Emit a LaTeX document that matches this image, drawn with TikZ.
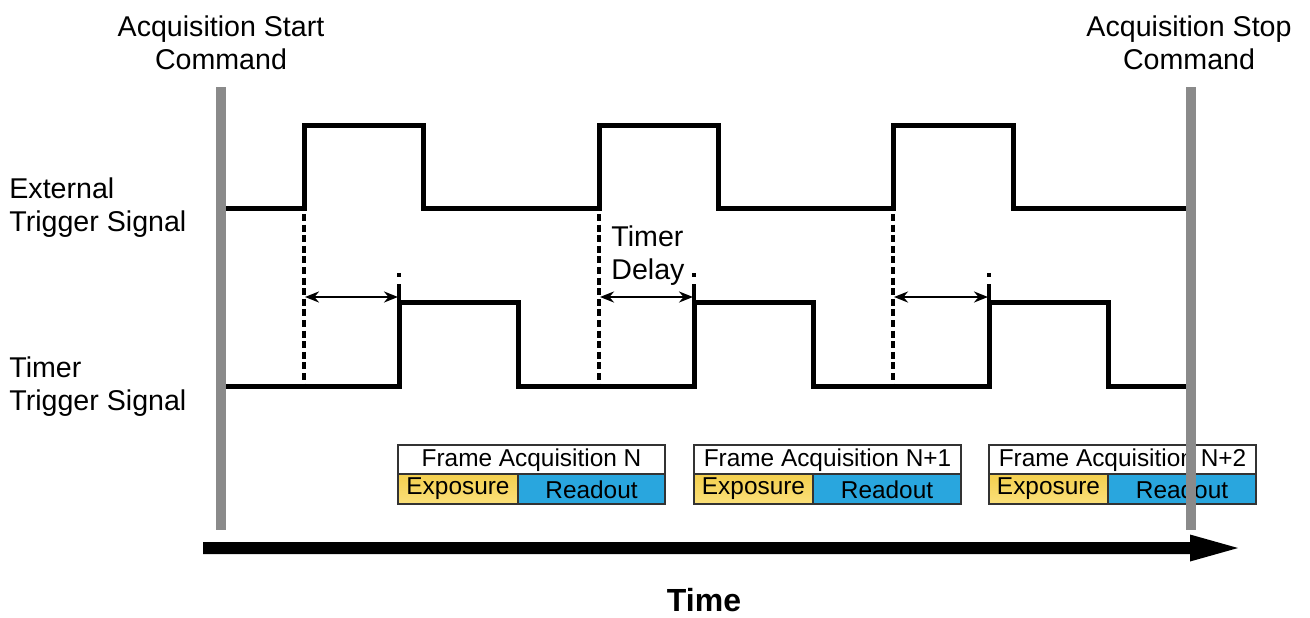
\documentclass[tikz,border=0pt]{standalone}
\usepackage{fontspec}
\setmainfont{Liberation Sans}
\usetikzlibrary{arrows.meta}
\definecolor{barGray}{HTML}{8A8A8A}
\definecolor{expYelTop}{HTML}{F3CF4E}
\definecolor{expYelBot}{HTML}{FBE07A}
\definecolor{readBlue}{HTML}{29A6DE}
\definecolor{boxLine}{HTML}{333333}
\tikzset{
  lbl/.style={inner sep=0pt, font={\fontsize{14.3}{16.8}\selectfont}, align=center},
  lblL/.style={inner sep=0pt, font={\fontsize{14.3}{16.8}\selectfont}, align=left},
  boxtxt/.style={inner sep=0pt, font={\fontsize{12.2}{14}\selectfont}},
  signal/.style={line width=2.5pt, line join=miter, line cap=rect},
  guide/.style={line width=2.2pt, dash pattern=on 3.5pt off 1.8pt},
  shortguide/.style={line width=2.2pt, dash pattern=on 2pt off 3.5pt on 20pt},
  delay/.style={line width=1.2pt, {Stealth[length=7pt,width=5.5pt]}-{Stealth[length=7pt,width=5.5pt]}},
  cmdbar/.style={line width=5pt, draw=barGray},
  cellline/.style={draw=boxLine, line width=0.6pt}
}
\begin{document}
\begin{tikzpicture}[x=0.5pt,y=-0.5pt]
\useasboundingbox (0,0) rectangle (1310,617);

% labels
\node[lbl, anchor=north] (startcmd) at (221,15) {Acquisition Start\\Command};
\node[lbl, anchor=north] (stopcmd) at (1189,15) {Acquisition Stop\\Command};
\node[lblL, anchor=north west] (extlbl) at (9,177) {External\\Trigger Signal};
\node[lblL, anchor=north west] (timlbl) at (9,356) {Timer\\Trigger Signal};
\node[lblL, anchor=north west] (delaylbl) at (611,225) {Timer\\Delay};
\node[inner sep=0pt, anchor=north, font={\fontsize{16}{18}\selectfont\bfseries}] (timelbl) at (704,588) {Time};

% signals
\draw[signal] (226,208) -- (304,208) -- (304,125) -- (423,125) -- (423,208) -- (599,208) -- (599,125) -- (718,125) -- (718,208) -- (893,208) -- (893,125) -- (1013,125) -- (1013,208) -- (1185,208);
\draw[signal] (226,386) -- (399,386) -- (399,302) -- (518,302) -- (518,386) -- (694,386) -- (694,302) -- (813,302) -- (813,386) -- (989,386) -- (989,302) -- (1108,302) -- (1108,386) -- (1185,386);

% guides and delay arrows
\foreach \i/\xa/\xb in {1/304/399, 2/599/694, 3/893/989} {
  \coordinate (gtop\i) at (\xa,214);
  \coordinate (gbot\i) at (\xa,384);
  \coordinate (htop\i) at (\xb,273);
  \coordinate (hbot\i) at (\xb,300);
  \coordinate (da\i) at (\xa+1,297);
  \coordinate (db\i) at (\xb-1,297);
  \draw[guide] (gtop\i) -- (gbot\i);
  \draw[shortguide] (htop\i) -- (hbot\i);
  \draw[delay] (da\i) -- (db\i);
}

% frame boxes
\foreach \i/\xl/\xm/\xr/\name in {1/398/518/665/N, 2/694/813/961/N+1, 3/989/1108/1256/N+2} {
  \fill[white] (\xl,445) rectangle (\xr,474);
  \shade[top color=expYelTop, bottom color=expYelBot] (\xl,474) rectangle (\xm,504);
  \fill[readBlue] (\xm,474) rectangle (\xr,504);
  \draw[cellline] (\xl,445) rectangle (\xr,504);
  \draw[cellline] (\xl,474) -- (\xr,474);
  \draw[cellline] (\xm,474) -- (\xm,504);
  \node[boxtxt] (fa\i) at ({(\xl+\xr)/2},460) {Frame Acquisition \name};
  \node[boxtxt] (ex\i) at ({(\xl+\xm)/2},489) {Exposure};
  \node[boxtxt] (ro\i) at ({(\xm+\xr)/2},490) {Readout};
}

% command bars
\coordinate (sbt) at (221,87);
\coordinate (sbb) at (221,530);
\coordinate (ebt) at (1191,87);
\coordinate (ebb) at (1191,530);
\draw[cmdbar] (sbt) -- (sbb);
\draw[cmdbar] (ebt) -- (ebb);

% time arrow
\fill[black] (203,542) -- (1190,542) -- (1190,534.5) -- (1238,548) -- (1190,561.5) -- (1190,554) -- (203,554) -- cycle;
\end{tikzpicture}
\end{document}
